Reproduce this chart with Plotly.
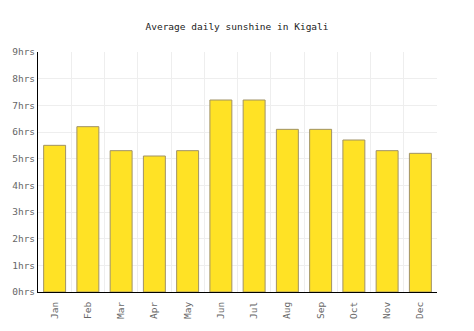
import plotly.graph_objects as go

months = ["Jan", "Feb", "Mar", "Apr", "May", "Jun", "Jul", "Aug", "Sep", "Oct", "Nov", "Dec"]
sunshine = [5.5, 6.2, 5.3, 5.1, 5.3, 7.2, 7.2, 6.1, 6.1, 5.7, 5.3, 5.2]
y_ticks = list(range(0, 10))
y_labels = [f"{v}hrs" for v in y_ticks]

fig = go.Figure(
    go.Bar(
        x=months,
        y=sunshine,
        marker=dict(color="#FFE225", line=dict(color="#A09266", width=1)),
        hoverinfo="x+y",
    )
)

font_family = "DejaVu Sans Mono, Liberation Mono, monospace"

fig.update_layout(
    width=474,
    height=331,
    margin=dict(l=38, r=37, t=52, b=39),
    paper_bgcolor="white",
    plot_bgcolor="white",
    bargap=0.34,
    showlegend=False,
    title=dict(
        text="Average daily sunshine in Kigali",
        x=0.5,
        xanchor="center",
        y=1 - 27 / 331,
        yanchor="middle",
        font=dict(family=font_family, size=9.5, color="#222222"),
    ),
    xaxis=dict(
        type="category",
        tickson="boundaries",
        showgrid=True,
        gridcolor="#EEEEEE",
        gridwidth=1,
        showline=True,
        linecolor="#000000",
        linewidth=1,
        ticks="",
        tickangle=-90,
        tickfont=dict(family=font_family, size=9.5, color="#666666"),
        ticklabelstandoff=5,
    ),
    yaxis=dict(
        range=[0, 9],
        tickvals=y_ticks,
        ticktext=y_labels,
        showgrid=True,
        gridcolor="#EEEEEE",
        gridwidth=1,
        showline=True,
        linecolor="#000000",
        linewidth=1,
        zeroline=False,
        ticks="",
        tickfont=dict(family=font_family, size=9.5, color="#666666"),
    ),
)

fig.write_html("out.html")
